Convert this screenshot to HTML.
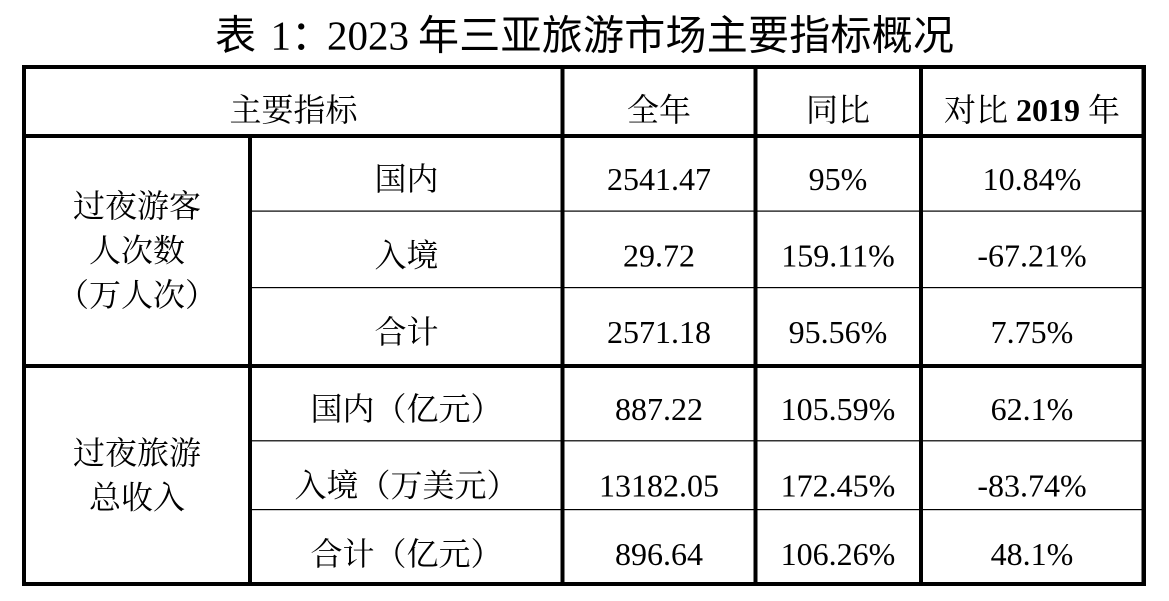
<!DOCTYPE html>
<html>
<head>
<meta charset="utf-8">
<style>
html,body{margin:0;padding:0;background:#fff;}
body{width:1169px;height:601px;overflow:hidden;}
svg{display:block;}
.t{font-family:"Liberation Serif","Noto Serif CJK SC",serif;font-size:32px;fill:#000;}
.ttl{font-family:"Liberation Serif","Noto Sans CJK SC",sans-serif;font-size:41px;fill:#000;font-weight:normal;}
</style>
</head>
<body>
<svg width="1169" height="601" viewBox="0 0 1169 601" xmlns="http://www.w3.org/2000/svg">
<rect x="0" y="0" width="1169" height="601" fill="#fff"/>

<!-- Title -->
<text class="ttl" y="49.5">
  <tspan x="215">表</tspan><tspan x="270.5">1</tspan><tspan x="291">：</tspan><tspan x="327">2023</tspan><tspan x="418" textLength="536" lengthAdjust="spacing">年三亚旅游市场主要指标概况</tspan>
</text>

<!-- Thick borders -->
<g fill="#000">
  <rect x="22" y="65" width="1124" height="4"/>
  <rect x="22" y="582" width="1124" height="4"/>
  <rect x="22" y="65" width="4" height="521"/>
  <rect x="1141.5" y="65" width="4.5" height="521"/>
  <rect x="22" y="134" width="1124" height="4"/>
  <rect x="22" y="364" width="1124" height="4"/>
  <rect x="248" y="134" width="4" height="452"/>
  <rect x="560.5" y="65" width="4" height="521"/>
  <rect x="753.5" y="65" width="4" height="521"/>
  <rect x="919" y="65" width="4" height="521"/>
  <!-- thin lines -->
  <rect x="252" y="210.5" width="890" height="1.2"/>
  <rect x="252" y="287" width="890" height="1.2"/>
  <rect x="252" y="440.2" width="890" height="1.2"/>
  <rect x="252" y="509" width="890" height="1.2"/>
</g>

<g class="t" text-anchor="middle">
  <!-- Header -->
  <text class="t" x="293.5" y="121">主要指标</text>
  <text class="t" x="659" y="121">全年</text>
  <text class="t" x="838" y="121">同比</text>
  <text class="t" x="1032" y="121">对比 <tspan font-weight="bold">2019</tspan> 年</text>

  <!-- Left merged cells -->
  <text class="t" x="137" y="217">过夜游客</text>
  <text class="t" x="137" y="261.5">人次数</text>
  <text class="t" x="137" y="306">（万人次）</text>
  <text class="t" x="137" y="464">过夜旅游</text>
  <text class="t" x="137" y="508.5">总收入</text>

  <!-- Row 1 -->
  <text class="t" x="406.5" y="190">国内</text>
  <text class="t" x="659" y="190">2541.47</text>
  <text class="t" x="838" y="190">95%</text>
  <text class="t" x="1032" y="190">10.84%</text>

  <!-- Row 2 -->
  <text class="t" x="406.5" y="266.5">入境</text>
  <text class="t" x="659" y="266.5">29.72</text>
  <text class="t" x="838" y="266.5">159.11%</text>
  <text class="t" x="1032" y="266.5">-67.21%</text>

  <!-- Row 3 -->
  <text class="t" x="406.5" y="343">合计</text>
  <text class="t" x="659" y="343">2571.18</text>
  <text class="t" x="838" y="343">95.56%</text>
  <text class="t" x="1032" y="343">7.75%</text>

  <!-- Row 4 -->
  <text class="t" x="406.5" y="420">国内（亿元）</text>
  <text class="t" x="659" y="420">887.22</text>
  <text class="t" x="838" y="420">105.59%</text>
  <text class="t" x="1032" y="420">62.1%</text>

  <!-- Row 5 -->
  <text class="t" x="406.5" y="496.5">入境（万美元）</text>
  <text class="t" x="659" y="496.5">13182.05</text>
  <text class="t" x="838" y="496.5">172.45%</text>
  <text class="t" x="1032" y="496.5">-83.74%</text>

  <!-- Row 6 -->
  <text class="t" x="406.5" y="565">合计（亿元）</text>
  <text class="t" x="659" y="565">896.64</text>
  <text class="t" x="838" y="565">106.26%</text>
  <text class="t" x="1032" y="565">48.1%</text>
</g>
</svg>
</body>
</html>
